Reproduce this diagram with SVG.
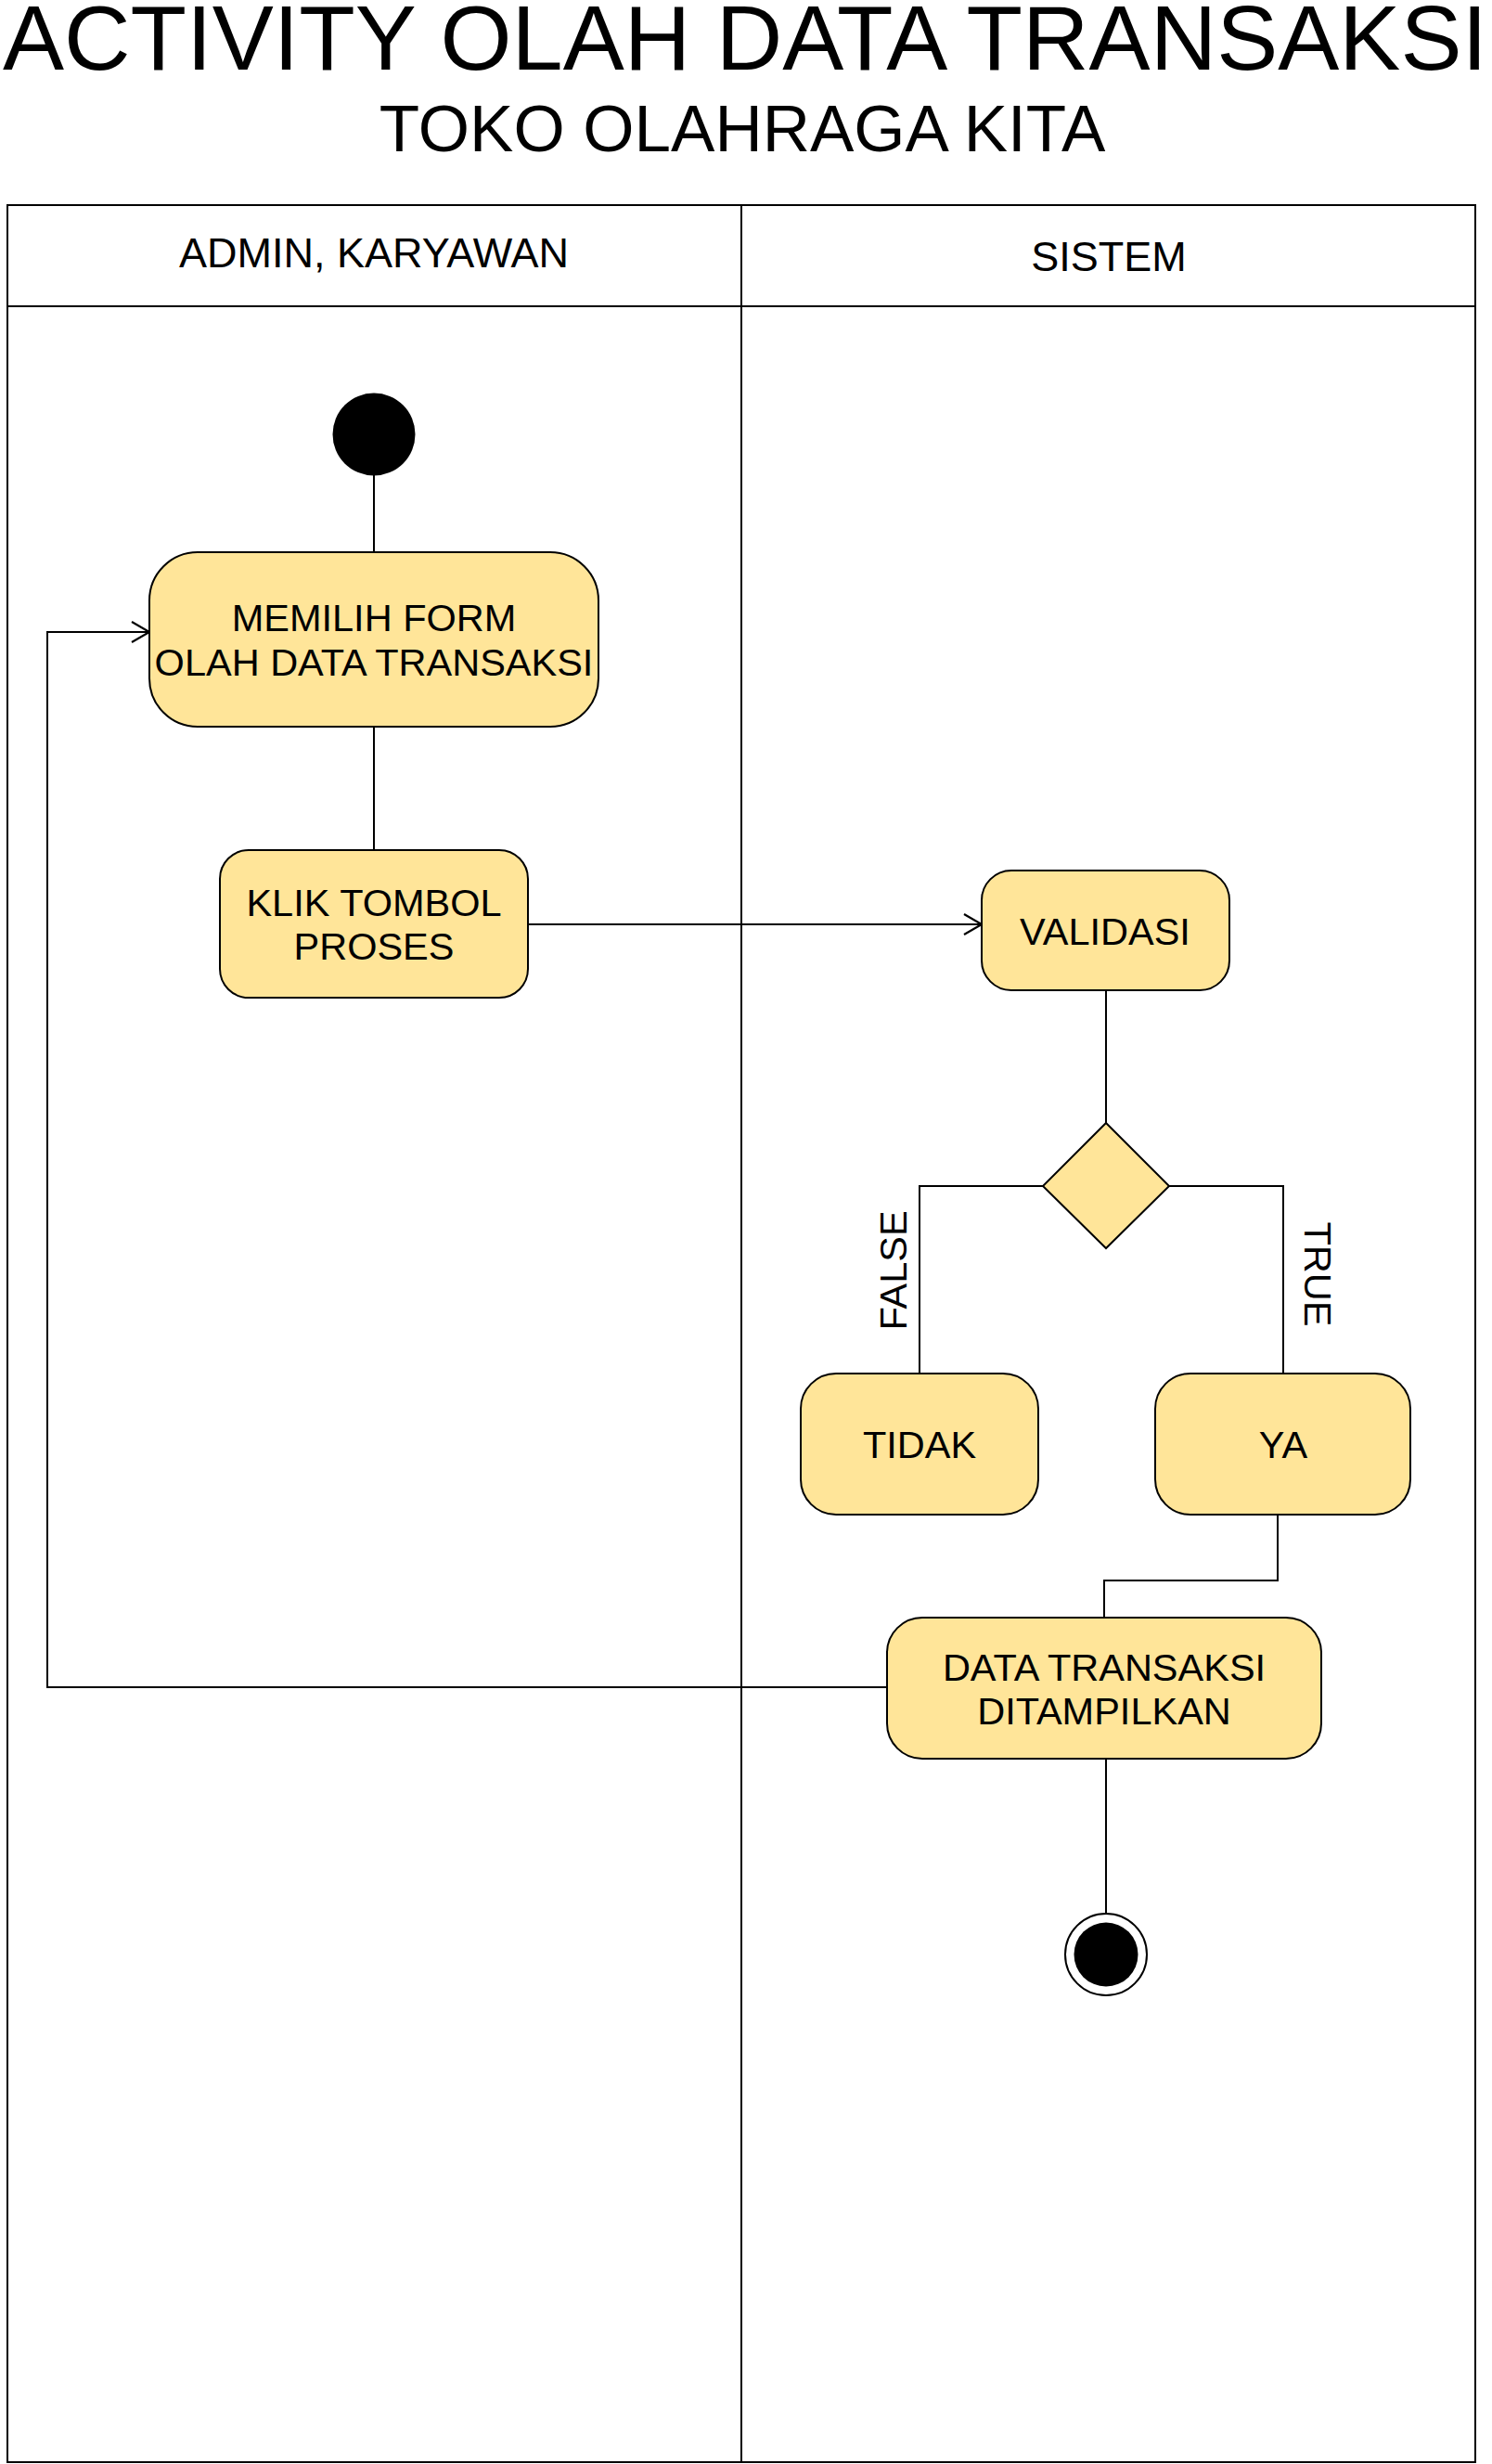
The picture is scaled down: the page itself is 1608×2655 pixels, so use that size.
<svg xmlns="http://www.w3.org/2000/svg" width="1608" height="2655" viewBox="0 0 1608 2655">
<style>
text{font-family:"Liberation Sans",Arial,sans-serif;fill:#000}
.lane{fill:none;stroke:#000;stroke-width:2}
.node{fill:#FFE599;stroke:#000;stroke-width:2}
.lbl{font-size:41.5px;text-anchor:middle}
.hdr{font-size:45px;text-anchor:middle}
.conn{fill:none;stroke:#000;stroke-width:2}
</style>
<defs>
<marker id="arr" markerUnits="userSpaceOnUse" markerWidth="24" markerHeight="26" refX="19" refY="11" orient="auto" viewBox="-2 -2 24 26">
<path d="M0,0 L19,11 L0,22" fill="none" stroke="#000" stroke-width="2.2"/>
</marker>
</defs>
<rect width="1608" height="2655" fill="#fff"/>
<g id="title">
<text x="803" y="75" font-size="98" text-anchor="middle" textLength="1600" lengthAdjust="spacingAndGlyphs">ACTIVITY OLAH DATA TRANSAKSI</text>
<text x="800" y="163" font-size="71" text-anchor="middle">TOKO OLAHRAGA KITA</text>
</g>
<g id="swimlanes">
<rect class="lane" x="8" y="221" width="1582" height="2432"/>
<line class="lane" x1="8" y1="330" x2="1590" y2="330"/>
<line class="lane" x1="799" y1="221" x2="799" y2="2653"/>
<text class="hdr" x="403" y="288">ADMIN, KARYAWAN</text>
<text class="hdr" x="1195" y="292">SISTEM</text>
</g>
<g id="connectors">
<path class="conn" d="M403 512 V595"/>
<path class="conn" d="M403 783 V916"/>
<path class="conn" d="M569 996 H1058" marker-end="url(#arr)"/>
<path class="conn" d="M1192 1067 V1210"/>
<path class="conn" d="M1124 1278 H991 V1480"/>
<path class="conn" d="M1260 1278 H1383 V1480"/>
<path class="conn" d="M1377 1632 V1703 H1190 V1743"/>
<path class="conn" d="M1192 1895 V2062"/>
<path class="conn" d="M956 1818 H51 V681 H161" marker-end="url(#arr)"/>
<text class="lbl" transform="translate(962 1369) rotate(-90)" y="15">FALSE</text>
<text class="lbl" transform="translate(1421 1373) rotate(90)" y="15">TRUE</text>
</g>
<g id="start">
<circle cx="403" cy="468" r="44.5" fill="#000"/>
</g>
<g id="memilih">
<rect class="node" x="161" y="595" width="484" height="188" rx="52" ry="52"/>
<text class="lbl" x="403" y="680">MEMILIH FORM</text>
<text class="lbl" x="403" y="728">OLAH DATA TRANSAKSI</text>
</g>
<g id="klik">
<rect class="node" x="237" y="916" width="332" height="159" rx="31" ry="31"/>
<text class="lbl" x="403" y="987">KLIK TOMBOL</text>
<text class="lbl" x="403" y="1034">PROSES</text>
</g>
<g id="validasi">
<rect class="node" x="1058" y="938" width="267" height="129" rx="32" ry="32"/>
<text class="lbl" x="1191" y="1018">VALIDASI</text>
</g>
<g id="decision">
<polygon class="node" points="1192,1210 1260,1278 1192,1345 1124,1278"/>
</g>
<g id="tidak">
<rect class="node" x="863" y="1480" width="256" height="152" rx="38" ry="38"/>
<text class="lbl" x="991" y="1571">TIDAK</text>
</g>
<g id="ya">
<rect class="node" x="1245" y="1480" width="275" height="152" rx="38" ry="38"/>
<text class="lbl" x="1383" y="1571">YA</text>
</g>
<g id="data">
<rect class="node" x="956" y="1743" width="468" height="152" rx="38" ry="38"/>
<text class="lbl" x="1190" y="1811">DATA TRANSAKSI</text>
<text class="lbl" x="1190" y="1858">DITAMPILKAN</text>
</g>
<g id="end">
<circle cx="1192" cy="2106" r="44" fill="#fff" stroke="#000" stroke-width="2"/>
<circle cx="1192" cy="2106" r="34.5" fill="#000"/>
</g>
</svg>
